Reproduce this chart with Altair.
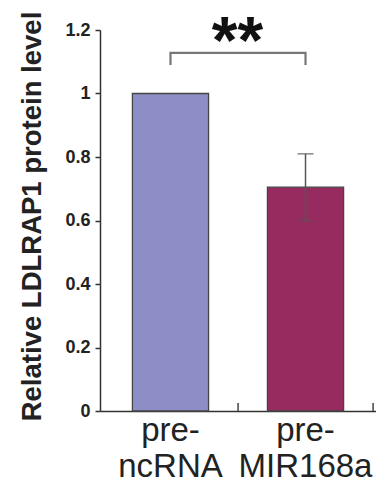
import altair as alt
import pandas as pd

categories = ["pre-|ncRNA", "pre-|MIR168a"]
values = [1.0, 0.705]
errors = [0.0, 0.105]
colors = ["#8e8ec6", "#962b5f"]
y_ticks = [0, 0.2, 0.4, 0.6, 0.8, 1.0, 1.2]

bracket_cat = [categories[0], categories[0], categories[1], categories[1]]
bracket_y = [1.09, 1.128, 1.128, 1.09]
sig_label = "**"
sig_y = 1.096
x_tick_len = 0.025  # inward x-axis tick length (data units)

df = pd.DataFrame({"cat": categories, "value": values, "err": errors, "color": colors})
df["lo"] = df["value"] - df["err"]
df["hi"] = df["value"] + df["err"]
err_df = df[df["err"] > 0]
br_df = pd.DataFrame({"cat": bracket_cat, "y": bracket_y, "o": list(range(len(bracket_y)))})
sig_df = pd.DataFrame({"cat": [categories[0]], "y": [sig_y], "t": [sig_label]})
xt_df = pd.DataFrame({"cat": categories, "y0": [0.0] * len(categories), "y1": [x_tick_len] * len(categories)})

xscale = alt.Scale(domain=categories, paddingInner=0.436, paddingOuter=0.24)
yscale = alt.Scale(domain=[0, 1.2], nice=False)
FONT = "Liberation Sans"

bars = alt.Chart(df).mark_bar(stroke="#444444", strokeWidth=1.3).encode(
    x=alt.X("cat:N", scale=xscale, sort=categories, title=None,
            axis=alt.Axis(orient="bottom", ticks=False,
                          domainColor="#333333", domainWidth=1.5,
                          labelExpr="split(datum.label, '|')", labelAngle=0,
                          labelFont=FONT, labelFontSize=33, labelColor="#222222",
                          labelLineHeight=36, labelBaseline="alphabetic", labelPadding=29)),
    y=alt.Y("value:Q", scale=yscale,
            axis=alt.Axis(values=y_ticks, format="~g", tickSize=5, tickColor="#333333",
                          tickWidth=1.5, domainColor="#333333", domainWidth=1.5, grid=False,
                          labelFont=FONT, labelFontSize=18, labelFontWeight="bold",
                          labelColor="#222222", labelPadding=5,
                          title="Relative LDLRAP1 protein level", titleFont=FONT,
                          titleFontSize=27.5, titleFontWeight="bold", titleColor="#222222",
                          titleX=-60, titleY=186, titleAngle=270, titleAlign="center",
                          titleBaseline="alphabetic")),
    color=alt.Color("color:N", scale=None),
)

x_ticks = alt.Chart(xt_df).mark_rule(color="#444444", strokeWidth=1.5, xOffset=29.5).encode(
    x=alt.X("cat:N", scale=xscale, sort=categories, bandPosition=1),
    y=alt.Y("y0:Q", scale=yscale),
    y2="y1:Q",
)

err_rule = alt.Chart(err_df).mark_rule(color="#555555", strokeWidth=1.5).encode(
    x=alt.X("cat:N", scale=xscale, sort=categories),
    y=alt.Y("lo:Q", scale=yscale),
    y2="hi:Q",
)
cap_hi = alt.Chart(err_df).mark_tick(color="#555555", size=16, thickness=1.5).encode(
    x=alt.X("cat:N", scale=xscale, sort=categories),
    y=alt.Y("hi:Q", scale=yscale),
)
cap_lo = alt.Chart(err_df).mark_tick(color="#555555", size=11, thickness=1.5).encode(
    x=alt.X("cat:N", scale=xscale, sort=categories),
    y=alt.Y("lo:Q", scale=yscale),
)

bracket = alt.Chart(br_df).mark_line(color="#777777", strokeWidth=2.2).encode(
    x=alt.X("cat:N", scale=xscale, sort=categories),
    y=alt.Y("y:Q", scale=yscale),
    order="o:Q",
)

sig = alt.Chart(sig_df).mark_text(font=FONT, fontSize=66, fontWeight="bold", color="#111111",
                                  baseline="alphabetic", align="center", dx=67).encode(
    x=alt.X("cat:N", scale=xscale, sort=categories),
    y=alt.Y("y:Q", scale=yscale),
    text="t:N",
)

chart = alt.layer(bars, x_ticks, err_rule, cap_hi, cap_lo, bracket, sig).properties(
    width=276, height=381,
    autosize=alt.AutoSizeParams(type="none"),
    padding={"left": 92, "top": 22, "right": 0, "bottom": 66},
    background="white",
).configure_view(stroke=None)

chart.save("out.html", embed_options={"renderer": "svg", "actions": False})
